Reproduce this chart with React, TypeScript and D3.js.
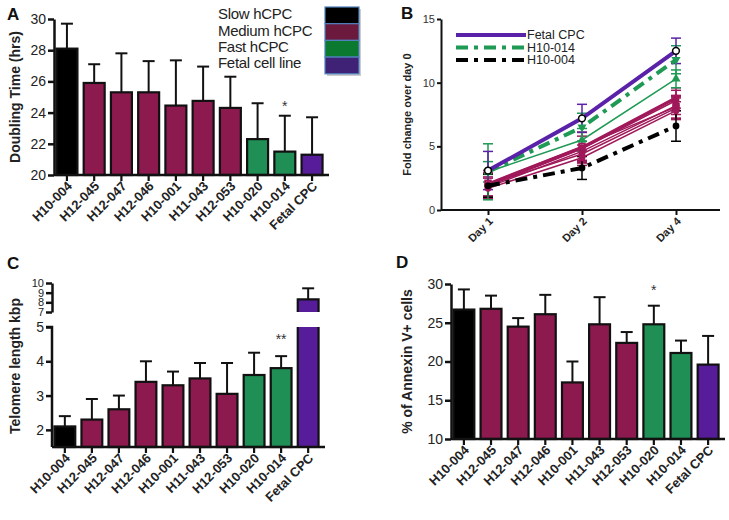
import React, { useEffect, useRef } from 'react';
import * as d3 from 'd3';

const cellLines = ['H10-004', 'H12-045', 'H12-047', 'H12-046', 'H10-001', 'H11-043', 'H12-053', 'H10-020', 'H10-014', 'Fetal CPC'];
const groups = ['slow', 'medium', 'medium', 'medium', 'medium', 'medium', 'medium', 'fast', 'fast', 'fetal'];

const doublingTime = [28.1, 25.9, 25.3, 25.3, 24.45, 24.75, 24.3, 22.3, 21.5, 21.3];
const doublingSd = [1.6, 1.2, 2.5, 2.0, 2.9, 2.2, 2.0, 2.3, 2.3, 2.4];

const telomere = [2.1, 2.3, 2.6, 3.4, 3.3, 3.5, 3.05, 3.6, 3.8, 8.3];
const telomereSd = [0.3, 0.6, 0.4, 0.6, 0.4, 0.45, 0.9, 0.65, 0.35, 1.15];

const annexin = [26.7, 26.8, 24.5, 26.1, 17.3, 24.8, 22.4, 24.8, 21.1, 19.6];
const annexinSd = [2.6, 1.7, 1.1, 2.5, 2.7, 3.5, 1.4, 2.4, 1.6, 3.7];

const legendLabels = ['Slow hCPC', 'Medium hCPC', 'Fast hCPC', 'Fetal cell line'];
const legendSwatches = ['#000000', '#6b1a3d', '#0b7a30', '#3f2176'];

const barColor: Record<string, string> = {
  slow: '#000000',
  medium: '#8c1a4f',
  fast: '#1f8f55',
  fetal: '#561c9a',
};

const days = ['Day 1', 'Day 2', 'Day 4'];
const growth = [
  { name: 'H12-053', values: [2.1, 5.0, 8.1], sd: [1.0, 1.1, 0.9], color: '#a0185a', width: 1.5, marker: 'square' },
  { name: 'H11-043', values: [1.7, 4.1, 7.8], sd: [0.8, 0.6, 0.7], color: '#a0185a', width: 1.5, marker: 'circle' },
  { name: 'H10-001', values: [2.0, 4.4, 8.0], sd: [0.9, 0.7, 0.8], color: '#a0185a', width: 1.5, marker: 'circle' },
  { name: 'H12-046', values: [1.8, 4.6, 8.2], sd: [0.8, 0.8, 0.7], color: '#a0185a', width: 1.5, marker: 'circle' },
  { name: 'H12-047', values: [1.9, 4.8, 8.6], sd: [1.0, 1.0, 0.8], color: '#a0185a', width: 1.5, marker: 'circle' },
  { name: 'H12-045', values: [2.0, 4.9, 8.8], sd: [1.1, 1.2, 0.8], color: '#a0185a', width: 3, marker: 'circle' },
  { name: 'H10-020', values: [3.0, 5.5, 10.3], sd: [0.8, 0.9, 0.7], color: '#1f9a55', width: 1.5, marker: 'triangle' },
  { name: 'H10-004', values: [1.9, 3.3, 6.6], sd: [0.9, 0.9, 1.2], color: '#000000', width: 4, marker: 'dot', dash: '12,6,4,6' },
  { name: 'H10-014', values: [3.0, 6.5, 11.8], sd: [2.2, 1.1, 1.1], color: '#1f9a55', width: 4, marker: 'triangleDown', dash: '12,6,4,6' },
  { name: 'Fetal CPC', values: [3.1, 7.2, 12.5], sd: [1.5, 1.1, 1.0], color: '#5a22a8', width: 4, marker: 'open' },
];
const growthLegend = ['Fetal CPC', 'H10-014', 'H10-004'];

const FONT = 'Liberation Sans, Arial, sans-serif';

function drawBarPanel(svg: any, o: any) {
  const g = svg.append('g');
  const x = d3.scaleBand().domain(cellLines).range([o.left, o.right]).paddingInner(0.23).paddingOuter(0.09);
  const y = d3.scaleLinear().domain(o.domain).range([o.bottom, o.top]);

  cellLines.forEach((c, i) => {
    const v = o.values[i];
    const top = y(v);
    const cx = x(c)! + x.bandwidth() / 2;
    g.append('line')
      .attr('x1', cx).attr('x2', cx)
      .attr('y1', top).attr('y2', y(v + o.sd[i]))
      .attr('stroke', '#111').attr('stroke-width', 2);
    g.append('line')
      .attr('x1', cx - 6).attr('x2', cx + 6)
      .attr('y1', y(v + o.sd[i])).attr('y2', y(v + o.sd[i]))
      .attr('stroke', '#111').attr('stroke-width', 2);
    g.append('rect')
      .attr('x', x(c)!).attr('y', top)
      .attr('width', x.bandwidth()).attr('height', o.bottom - top)
      .attr('fill', barColor[groups[i]]).attr('stroke', '#111').attr('stroke-width', 2.2);
  });

  const ya = g.append('g').attr('transform', `translate(${o.left},0)`)
    .call(d3.axisLeft(y).tickValues(o.ticks).tickSize(6).tickPadding(2).tickSizeOuter(0).tickFormat(d3.format('d')));
  ya.select('.domain').attr('stroke', '#111').attr('stroke-width', 2.5);
  ya.selectAll('.tick line').attr('stroke', '#111').attr('stroke-width', 2.5);
  ya.selectAll('.tick text').attr('font-family', FONT).attr('font-size', 14).attr('fill', '#222');

  const xa = g.append('g').attr('transform', `translate(0,${o.bottom})`)
    .call(d3.axisBottom(x).tickSize(6).tickSizeOuter(0));
  xa.select('.domain').attr('stroke', '#111').attr('stroke-width', 2.5).attr('d', `M${o.left},0H${o.right + 4}`);
  xa.selectAll('.tick line').attr('stroke', '#111').attr('stroke-width', 2.2);
  xa.selectAll('.tick text')
    .attr('font-family', FONT).attr('font-size', 13).attr('font-weight', 'bold').attr('fill', '#222')
    .attr('text-anchor', 'end').attr('dy', null).attr('y', 0)
    .attr('transform', 'translate(6,12) rotate(-45)');

  g.append('text').attr('transform', `translate(${o.ylabelX},${(o.top + o.bottom) / 2}) rotate(-90)`)
    .attr('text-anchor', 'middle').attr('dy', '0.35em')
    .attr('font-family', FONT).attr('font-size', 14).attr('font-weight', 'bold').attr('fill', '#222')
    .text(o.ylabel);
  g.append('text').attr('x', o.letterX).attr('y', o.letterY)
    .attr('font-family', FONT).attr('font-size', 17).attr('font-weight', 'bold').attr('fill', '#111')
    .text(o.letter);
  if (o.star) {
    g.append('text').attr('x', x(o.star.at)! + x.bandwidth() / 2).attr('y', y(o.star.value))
      .attr('text-anchor', 'middle').attr('font-family', FONT).attr('font-size', 14).attr('fill', '#333')
      .text(o.star.text);
  }
}

function drawTelomere(svg: any) {
  const left = 52, right = 321, bottom = 447;
  const g = svg.append('g');
  const x = d3.scaleBand().domain(cellLines).range([left, right]).paddingInner(0.23).paddingOuter(0.09);
  const yLow = d3.scaleLinear().domain([1.5, 5]).range([bottom, 327]);
  const yHigh = d3.scaleLinear().domain([7, 10]).range([312, 283]);
  const yv = (v: number) => (v <= 5 ? yLow(v) : yHigh(v));

  cellLines.forEach((c, i) => {
    const cx = x(c)! + x.bandwidth() / 2;
    const v = telomere[i];
    const e = v + telomereSd[i];
    g.append('line').attr('x1', cx).attr('x2', cx).attr('y1', yv(v)).attr('y2', yv(e))
      .attr('stroke', '#111').attr('stroke-width', 2);
    g.append('line').attr('x1', cx - 6).attr('x2', cx + 6).attr('y1', yv(e)).attr('y2', yv(e))
      .attr('stroke', '#111').attr('stroke-width', 2);
    if (v <= 5) {
      g.append('rect').attr('x', x(c)!).attr('y', yLow(v)).attr('width', x.bandwidth()).attr('height', bottom - yLow(v))
        .attr('fill', barColor[groups[i]]).attr('stroke', '#111').attr('stroke-width', 2.2);
    } else {
      g.append('rect').attr('x', x(c)!).attr('y', yLow(5)).attr('width', x.bandwidth()).attr('height', bottom - yLow(5))
        .attr('fill', barColor[groups[i]]);
      g.append('rect').attr('x', x(c)!).attr('y', yHigh(v)).attr('width', x.bandwidth()).attr('height', yHigh(7) - yHigh(v))
        .attr('fill', barColor[groups[i]]);
      g.append('path')
        .attr('d', `M${x(c)!},${bottom}V${yLow(5)}M${x(c)! + x.bandwidth()},${bottom}V${yLow(5)}M${x(c)!},${yHigh(7)}V${yHigh(v)}H${x(c)! + x.bandwidth()}V${yHigh(7)}`)
        .attr('fill', 'none').attr('stroke', '#111').attr('stroke-width', 2.2);
    }
  });

  const styleY = (sel: any) => {
    sel.select('.domain').attr('stroke', '#111').attr('stroke-width', 2.5);
    sel.selectAll('.tick line').attr('stroke', '#111').attr('stroke-width', 2.5);
    sel.selectAll('.tick text').attr('font-family', FONT).attr('font-size', 14).attr('fill', '#222');
  };
  const yaLow = g.append('g').attr('transform', `translate(${left},0)`)
    .call(d3.axisLeft(yLow).tickValues([2, 3, 4, 5]).tickSize(6).tickPadding(2).tickSizeOuter(0).tickFormat(d3.format('d')));
  styleY(yaLow);
  yaLow.select('.domain').attr('d', `M0,${bottom}V${yLow(5)}H-6`);
  const yaHigh = g.append('g').attr('transform', `translate(${left},0)`)
    .call(d3.axisLeft(yHigh).tickValues([7, 8, 9, 10]).tickSize(6).tickPadding(2).tickSizeOuter(0).tickFormat(d3.format('d')));
  styleY(yaHigh);
  yaHigh.selectAll('.tick text').attr('font-size', 11);

  const xa = g.append('g').attr('transform', `translate(0,${bottom})`)
    .call(d3.axisBottom(x).tickSize(6).tickSizeOuter(0));
  xa.select('.domain').attr('stroke', '#111').attr('stroke-width', 2.5).attr('d', `M${left},0H${right + 4}`);
  xa.selectAll('.tick line').attr('stroke', '#111').attr('stroke-width', 2.2);
  xa.selectAll('.tick text')
    .attr('font-family', FONT).attr('font-size', 13).attr('font-weight', 'bold').attr('fill', '#222')
    .attr('text-anchor', 'end').attr('dy', null).attr('y', 0)
    .attr('transform', 'translate(6,12) rotate(-45)');

  g.append('text').attr('transform', `translate(15,366) rotate(-90)`)
    .attr('text-anchor', 'middle').attr('dy', '0.35em')
    .attr('font-family', FONT).attr('font-size', 14).attr('font-weight', 'bold').attr('fill', '#222')
    .text('Telomere length kbp');
  g.append('text').attr('x', 7).attr('y', 269)
    .attr('font-family', FONT).attr('font-size', 17).attr('font-weight', 'bold').attr('fill', '#111').text('C');
  g.append('text').attr('x', x('H10-014')! + x.bandwidth() / 2).attr('y', yLow(4.5))
    .attr('text-anchor', 'middle').attr('font-family', FONT).attr('font-size', 14).attr('fill', '#333').text('**');
}

function marker(g: any, kind: string, cx: number, cy: number, color: string) {
  const sym = kind === 'square' ? d3.symbolSquare : kind.startsWith('triangle') ? d3.symbolTriangle : d3.symbolCircle;
  const p = g.append('path').attr('d', d3.symbol(sym, kind === 'square' ? 30 : 36)())
    .attr('transform', `translate(${cx},${cy})${kind === 'triangleDown' ? ' rotate(180)' : ''}`);
  if (kind === 'open') p.attr('fill', 'white').attr('stroke', '#000').attr('stroke-width', 1.5);
  else if (kind === 'square') p.attr('fill', 'white').attr('stroke', color).attr('stroke-width', 2);
  else p.attr('fill', color);
}

function drawGrowth(svg: any) {
  const left = 441, right = 720, top = 19, bottom = 210;
  const g = svg.append('g');
  const x = d3.scalePoint().domain(days).range([488, 676]);
  const y = d3.scaleLinear().domain([0, 15]).range([bottom, top]);

  growth.forEach((s) => {
    days.forEach((d, i) => {
      const cx = x(d)!;
      const lo = y(s.values[i] - s.sd[i]), hi = y(s.values[i] + s.sd[i]);
      g.append('line').attr('x1', cx).attr('x2', cx).attr('y1', lo).attr('y2', hi).attr('stroke', s.color).attr('stroke-width', 1.5);
      [lo, hi].forEach((yy) => g.append('line').attr('x1', cx - 5).attr('x2', cx + 5).attr('y1', yy).attr('y2', yy)
        .attr('stroke', s.color).attr('stroke-width', 1.5));
    });
  });
  const line = d3.line<number>().x((_, i) => x(days[i])!).y((v) => y(v));
  growth.forEach((s) => {
    g.append('path').attr('d', line(s.values)).attr('fill', 'none').attr('stroke', s.color)
      .attr('stroke-width', s.width).attr('stroke-dasharray', s.dash || null);
    days.forEach((d, i) => marker(g, s.marker, x(d)!, y(s.values[i]), s.color));
  });

  const ya = g.append('g').attr('transform', `translate(${left},0)`)
    .call(d3.axisLeft(y).tickValues([0, 5, 10, 15]).tickSize(4).tickPadding(2).tickSizeOuter(0));
  ya.select('.domain').attr('stroke', '#111').attr('stroke-width', 2);
  ya.selectAll('.tick line').attr('stroke', '#111').attr('stroke-width', 2);
  ya.selectAll('.tick text').attr('font-family', FONT).attr('font-size', 11).attr('fill', '#333');

  const xa = g.append('g').attr('transform', `translate(0,${bottom})`)
    .call(d3.axisBottom(x).tickSize(5).tickSizeOuter(0));
  xa.select('.domain').attr('stroke', '#111').attr('stroke-width', 2).attr('d', `M${left},0H${right}`);
  xa.selectAll('.tick line').attr('stroke', '#111').attr('stroke-width', 2);
  xa.selectAll('.tick text')
    .attr('font-family', FONT).attr('font-size', 11).attr('font-weight', 'bold').attr('fill', '#222')
    .attr('text-anchor', 'end').attr('dy', null).attr('y', 0)
    .attr('transform', 'translate(5,12) rotate(-45)');

  growthLegend.forEach((name, i) => {
    const s = growth.find((d) => d.name === name)!;
    const ly = 35 + i * 12.5;
    g.append('line').attr('x1', 456).attr('x2', 526).attr('y1', ly).attr('y2', ly)
      .attr('stroke', s.color).attr('stroke-width', s.width).attr('stroke-dasharray', s.dash || null);
    g.append('text').attr('x', 527).attr('y', ly).attr('dy', '0.35em')
      .attr('font-family', FONT).attr('font-size', 12.5).attr('fill', '#222').text(name);
  });

  g.append('text').attr('transform', `translate(407,${(top + bottom) / 2}) rotate(-90)`)
    .attr('text-anchor', 'middle').attr('dy', '0.35em')
    .attr('font-family', FONT).attr('font-size', 11).attr('font-weight', 'bold').attr('fill', '#222')
    .text('Fold change over day 0');
  g.append('text').attr('x', 401).attr('y', 19)
    .attr('font-family', FONT).attr('font-size', 17).attr('font-weight', 'bold').attr('fill', '#111').text('B');
}

export default function App() {
  const ref = useRef<SVGSVGElement>(null);

  useEffect(() => {
    const svg = d3.select(ref.current);
    svg.selectAll('*').remove();

    drawBarPanel(svg, {
      left: 54, right: 325, top: 19, bottom: 175, domain: [20, 30], ticks: [20, 22, 24, 26, 28, 30],
      values: doublingTime, sd: doublingSd, ylabel: 'Doubling Time (hrs)', ylabelX: 15,
      letter: 'A', letterX: 7, letterY: 20, star: { at: 'H10-014', value: 24.1, text: '*' },
    });

    const lg = svg.append('g');
    legendLabels.forEach((t, i) => {
      lg.append('text').attr('x', 218).attr('y', 14 + i * 16.3).attr('dy', '0.35em')
        .attr('font-family', FONT).attr('font-size', 15).attr('fill', '#222').attr('letter-spacing', -0.3).text(t);
    });
    lg.append('rect').attr('x', 327).attr('y', 9).attr('width', 34).attr('height', 67).attr('fill', '#9a9a9a').attr('opacity', 0.5);
    legendSwatches.forEach((c, i) => {
      lg.append('rect').attr('x', 325).attr('y', 7 + i * 16.7).attr('width', 34).attr('height', 16.7)
        .attr('fill', c).attr('stroke', '#4f81bd').attr('stroke-width', 1.2);
    });

    drawGrowth(svg);
    drawTelomere(svg);

    drawBarPanel(svg, {
      left: 451, right: 721, top: 284, bottom: 439, domain: [10, 30], ticks: [10, 15, 20, 25, 30],
      values: annexin, sd: annexinSd, ylabel: '% of Annexin V+ cells', ylabelX: 407,
      letter: 'D', letterX: 396, letterY: 268, star: { at: 'H10-020', value: 28.6, text: '*' },
    });
  }, []);

  return (
    <svg ref={ref} width={729} height={520}
      style={{ position: 'absolute', left: 0, top: 0, background: '#fff' }} />
  );
}
